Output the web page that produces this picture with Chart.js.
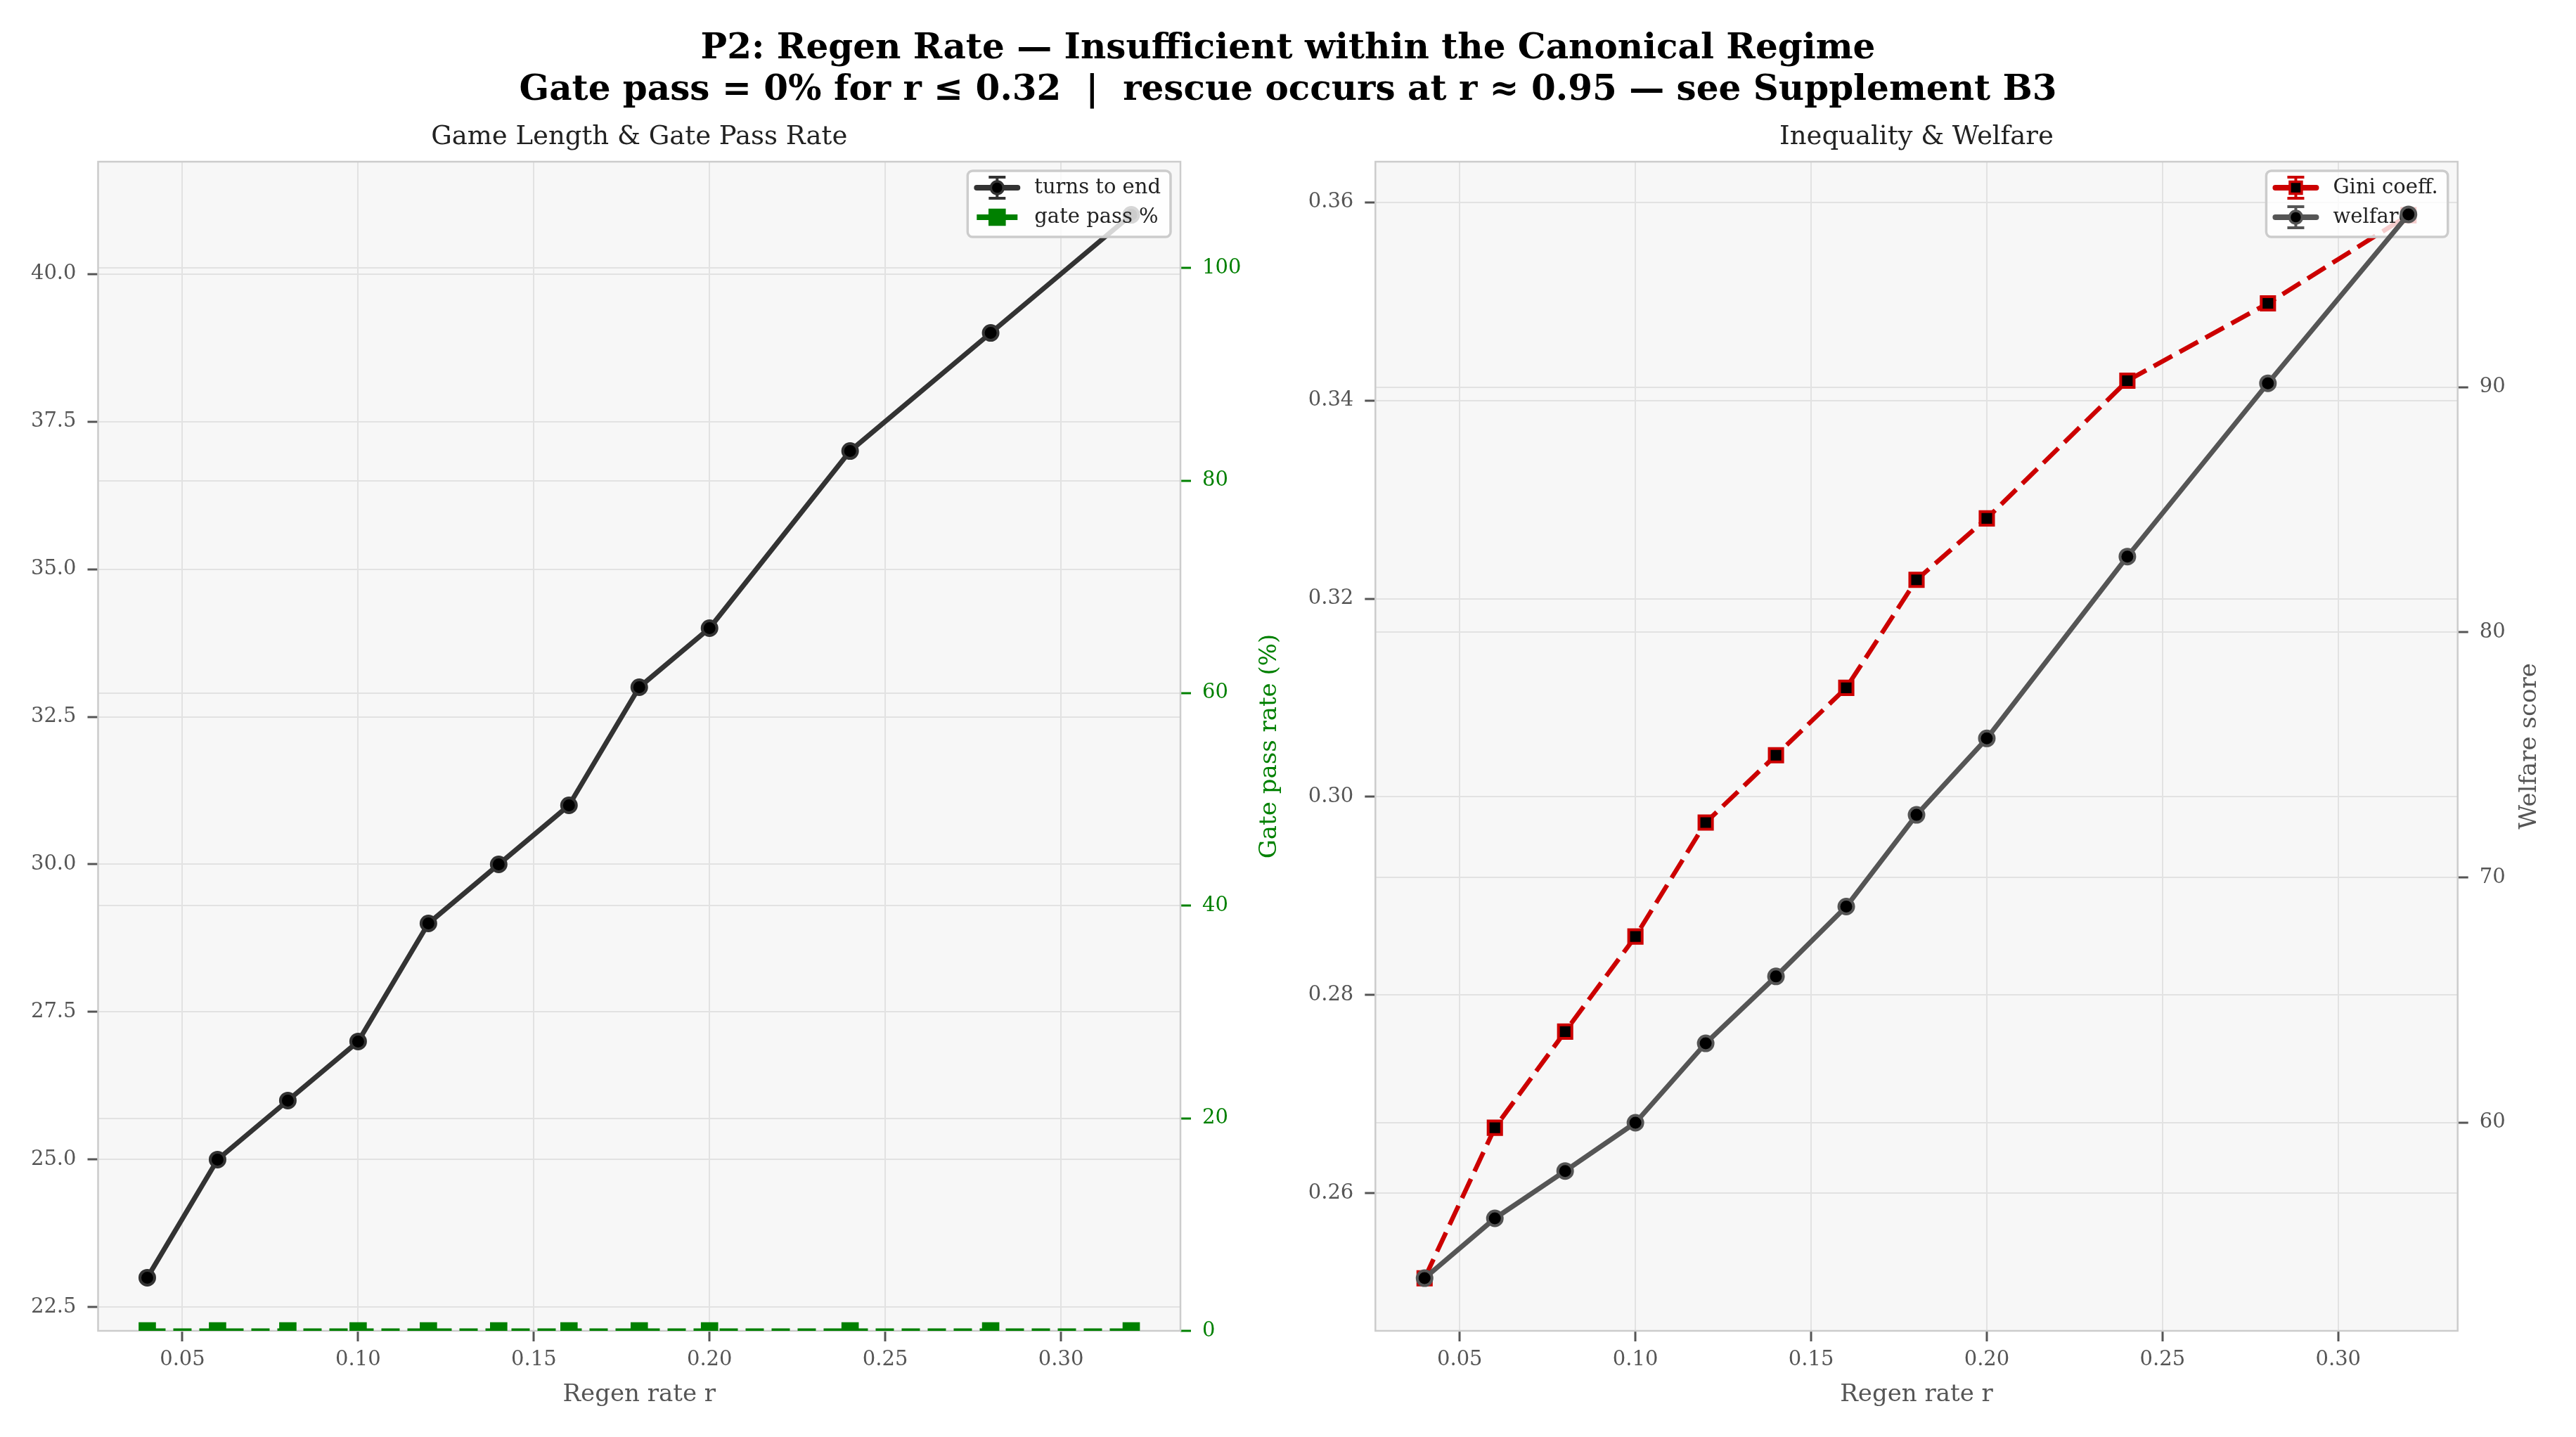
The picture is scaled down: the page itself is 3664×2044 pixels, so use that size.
<!DOCTYPE html>
<html><head><meta charset="utf-8">
<script src="https://cdn.jsdelivr.net/npm/chart.js@4.4.1/dist/chart.umd.min.js"></script>
<style>
html,body{margin:0;padding:0;background:#fff;}
body{width:3664px;height:2044px;position:relative;overflow:hidden;}
#title{position:absolute;left:0;top:36px;width:3664px;text-align:center;font-family:'DejaVu Serif',serif;font-weight:bold;font-size:50px;line-height:59px;color:#000;white-space:pre;}
canvas{position:absolute;top:0;}
#c1{left:0;}#c2{left:1832px;}
</style></head><body>
<div id="title">P2: Regen Rate — Insufficient within the Canonical Regime<br>Gate pass = 0% for r ≤ 0.32  |  rescue occurs at r ≈ 0.95 — see Supplement B3</div>
<canvas id="c1" width="1832" height="2044" style="width:1832px;height:2044px"></canvas>
<canvas id="c2" width="1832" height="2044" style="width:1832px;height:2044px"></canvas>
<script>
// ---- data ----
const regenRate = [0.04, 0.06, 0.08, 0.10, 0.12, 0.14, 0.16, 0.18, 0.20, 0.24, 0.28, 0.32];
const turnsToEnd = [23, 25, 26, 27, 29, 30, 31, 33, 34, 37, 39, 41];
const gatePassPct = [0, 0, 0, 0, 0, 0, 0, 0, 0, 0, 0, 0];
const giniCoeff = [0.2514, 0.2666, 0.2763, 0.2859, 0.2974, 0.3042, 0.3110, 0.3219, 0.3281, 0.3420, 0.3498, 0.3587];
const welfareScore = [53.65, 56.09, 58.02, 59.99, 63.23, 65.96, 68.81, 72.55, 75.67, 83.09, 90.16, 97.05];
const xTicks = [0.05, 0.10, 0.15, 0.20, 0.25, 0.30];
const turnsTicks = [22.5, 25.0, 27.5, 30.0, 32.5, 35.0, 37.5, 40.0];
const gateTicks = [0, 20, 40, 60, 80, 100];
const giniTicks = [0.26, 0.28, 0.30, 0.32, 0.34, 0.36];
const welfareTicks = [60, 70, 80, 90];

const FAMILY = "'DejaVu Serif', serif";
Chart.defaults.font.family = FAMILY;
const GREEN = '#008000';
const GRAY = '#555555';
const GRID = '#e2e2e2';
const TICK_SIZE = 29;

function pts(ys) { return regenRate.map((x, i) => ({x: x, y: ys[i]})); }
function setTicks(arr) { return s => { s.ticks = arr.map(v => ({value: v})); }; }

function axisBase(pos, ticks, width, color, fmt) {
  return {
    type: 'linear', position: pos,
    afterBuildTicks: setTicks(ticks),
    afterFit: s => { s.width = width; },
    border: {display: false},
    grid: {color: GRID, lineWidth: 2, tickLength: 15, tickColor: color, tickWidth: 3},
    ticks: {padding: 16, color: color, font: {size: TICK_SIZE}, callback: fmt}
  };
}
function xAxis() {
  return {
    type: 'linear', position: 'bottom', min: 0.026, max: 0.334,
    afterBuildTicks: setTicks(xTicks),
    afterFit: s => { s.height = 151; },
    border: {display: false},
    grid: {color: GRID, lineWidth: 2, tickLength: 15, tickColor: GRAY, tickWidth: 3},
    ticks: {padding: 9, color: GRAY, font: {size: TICK_SIZE}, callback: v => v.toFixed(2)}
  };
}

function drawText(ctx, t) {
  ctx.save();
  ctx.translate(t.x, t.y);
  if (t.rot) ctx.rotate(t.rot);
  ctx.font = t.font;
  ctx.fillStyle = t.color;
  ctx.textAlign = 'center';
  ctx.textBaseline = t.base || 'middle';
  ctx.fillText(t.text, 0, 0);
  ctx.restore();
}

function drawLegend(chart, items) {
  const ctx = chart.ctx, a = chart.chartArea;
  ctx.save();
  ctx.font = '29px ' + FAMILY;
  let tw = 0;
  items.forEach(it => { tw = Math.max(tw, ctx.measureText(it.label).width); });
  const w = 95 + tw + 14, h = 94;
  const x0 = a.right - 14 - w, y0 = a.top + 13;
  ctx.beginPath();
  ctx.roundRect(x0, y0, w, h, 7);
  ctx.fillStyle = 'rgba(255,255,255,0.8)';
  ctx.fill();
  ctx.lineWidth = 3.5;
  ctx.strokeStyle = '#cccccc';
  ctx.stroke();
  items.forEach((it, i) => {
    const cy = y0 + 24 + i * 42, cx = x0 + 42;
    ctx.strokeStyle = it.color;
    ctx.setLineDash([]);
    ctx.lineWidth = 8;
    ctx.lineCap = it.err ? 'round' : 'butt';
    ctx.beginPath(); ctx.moveTo(cx - 29, cy); ctx.lineTo(cx + 29, cy); ctx.stroke();
    ctx.lineCap = 'butt';
    if (it.err) {
      ctx.lineWidth = 4;
      ctx.beginPath();
      ctx.moveTo(cx, cy - 15); ctx.lineTo(cx, cy + 15);
      ctx.moveTo(cx - 12, cy - 15); ctx.lineTo(cx + 12, cy - 15);
      ctx.moveTo(cx - 12, cy + 15); ctx.lineTo(cx + 12, cy + 15);
      ctx.stroke();
    }
    ctx.fillStyle = it.fill;
    ctx.strokeStyle = it.edge;
    ctx.lineWidth = it.bw;
    Chart.helpers.drawPoint(ctx, {pointStyle: it.style, radius: it.r, borderWidth: it.bw, rotation: 0}, cx, cy);
    ctx.fillStyle = '#222';
    ctx.textAlign = 'left';
    ctx.textBaseline = 'middle';
    ctx.fillText(it.label, x0 + 95, cy);
  });
  ctx.restore();
}

function makeDecor(cfg) {
  return {
    id: 'decor',
    beforeDraw(chart) {
      const {ctx, chartArea: a} = chart;
      ctx.save();
      ctx.fillStyle = '#f7f7f7';
      ctx.fillRect(a.left, a.top, a.right - a.left, a.bottom - a.top);
      ctx.restore();
    },
    beforeDatasetsDraw(chart) {
      const {ctx, chartArea: a} = chart;
      ctx.save();
      ctx.strokeStyle = '#cccccc';
      ctx.lineWidth = 2.5;
      ctx.strokeRect(a.left, a.top, a.right - a.left, a.bottom - a.top);
      ctx.restore();
    },
    afterDatasetDraw(chart, args) {
      if (args.meta.label === cfg.legendAfter) drawLegend(chart, cfg.legend);
    },
    afterDraw(chart) {
      const {ctx, chartArea: a} = chart;
      const cx = (a.left + a.right) / 2, cy = (a.top + a.bottom) / 2;
      drawText(ctx, {text: cfg.title, x: cx, y: a.top - 25, base: 'alphabetic', font: '37px ' + FAMILY, color: '#222'});
      drawText(ctx, {text: cfg.xLabel, x: cx, y: a.bottom + 100, base: 'alphabetic', font: '34px ' + FAMILY, color: GRAY});
      drawText(ctx, {text: cfg.y2Label, x: a.right + cfg.y2Off, y: cy, rot: -Math.PI / 2, font: '34px ' + FAMILY, color: cfg.y2Color});
    }
  };
}

function baseOptions(scales) {
  return {
    responsive: false, animation: false, devicePixelRatio: 1,
    layout: {padding: {top: 230, left: 0, right: 0, bottom: 0}},
    plugins: {legend: {display: false}, tooltip: {enabled: false}, title: {display: false}},
    scales: scales
  };
}

// ---- left panel ----
const yLeft = axisBase('left', turnsTicks, 139.5, GRAY, v => v.toFixed(1));
yLeft.min = 22.1; yLeft.max = 41.9;
const yLeft2 = axisBase('right', gateTicks, 153, GREEN, v => String(Math.round(v)));
yLeft2.min = 0; yLeft2.max = 110;

new Chart(document.getElementById('c1'), {
  type: 'line',
  data: {datasets: [
    {label: 'gate pass %', data: pts(gatePassPct), yAxisID: 'y2', borderColor: GREEN, borderWidth: 7,
     borderDash: [26, 11], pointStyle: 'rect', pointRadius: 16, pointBorderWidth: 2,
     pointBackgroundColor: GREEN, pointBorderColor: GREEN, tension: 0, fill: false},
    {label: 'turns to end', data: pts(turnsToEnd), yAxisID: 'y', borderColor: '#333333', borderWidth: 7,
     borderCapStyle: 'round', borderJoinStyle: 'round',
     pointStyle: 'circle', pointRadius: 10.5, pointBorderWidth: 4,
     pointBackgroundColor: '#000000', pointBorderColor: '#333333', tension: 0, fill: false}
  ]},
  options: baseOptions({x: xAxis(), y: yLeft, y2: yLeft2}),
  plugins: [makeDecor({
    title: 'Game Length & Gate Pass Rate', xLabel: 'Regen rate r',
    y2Label: 'Gate pass rate (%)', y2Off: 127, y2Color: GREEN,
    legendAfter: 'gate pass %',
    legend: [
      {label: 'turns to end', color: '#333333', fill: '#000000', edge: '#333333', style: 'circle', r: 9, bw: 3.5, err: true},
      {label: 'gate pass %', color: GREEN, fill: GREEN, edge: GREEN, style: 'rect', r: 16, bw: 2, err: false}
    ]
  })]
});

// ---- right panel ----
const yRight = axisBase('left', giniTicks, 124.3, GRAY, v => v.toFixed(2));
yRight.min = 0.2461; yRight.max = 0.3641;
const yRight2 = axisBase('right', welfareTicks, 168.3, GRAY, v => String(Math.round(v)));
yRight2.min = 51.5; yRight2.max = 99.2;

new Chart(document.getElementById('c2'), {
  type: 'line',
  data: {datasets: [
    {label: 'welfare', data: pts(welfareScore), yAxisID: 'y2', borderColor: '#555555', borderWidth: 7,
     borderCapStyle: 'round', borderJoinStyle: 'round',
     pointStyle: 'circle', pointRadius: 10.5, pointBorderWidth: 4,
     pointBackgroundColor: '#000000', pointBorderColor: '#555555', tension: 0, fill: false},
    {label: 'Gini coeff.', data: pts(giniCoeff), yAxisID: 'y', borderColor: '#cc0000', borderWidth: 6.5,
     borderDash: [30, 12], pointStyle: 'rect', pointRadius: 13.5, pointBorderWidth: 4,
     pointBackgroundColor: '#000000', pointBorderColor: '#cc0000', tension: 0, fill: false}
  ]},
  options: baseOptions({x: xAxis(), y: yRight, y2: yRight2}),
  plugins: [makeDecor({
    title: 'Inequality & Welfare', xLabel: 'Regen rate r',
    y2Label: 'Welfare score', y2Off: 102, y2Color: GRAY,
    legendAfter: 'Gini coeff.',
    legend: [
      {label: 'Gini coeff.', color: '#cc0000', fill: '#000000', edge: '#cc0000', style: 'rect', r: 12, bw: 3.5, err: true},
      {label: 'welfare', color: '#555555', fill: '#000000', edge: '#555555', style: 'circle', r: 9, bw: 3.5, err: true}
    ]
  })]
});
</script>
</body></html>
